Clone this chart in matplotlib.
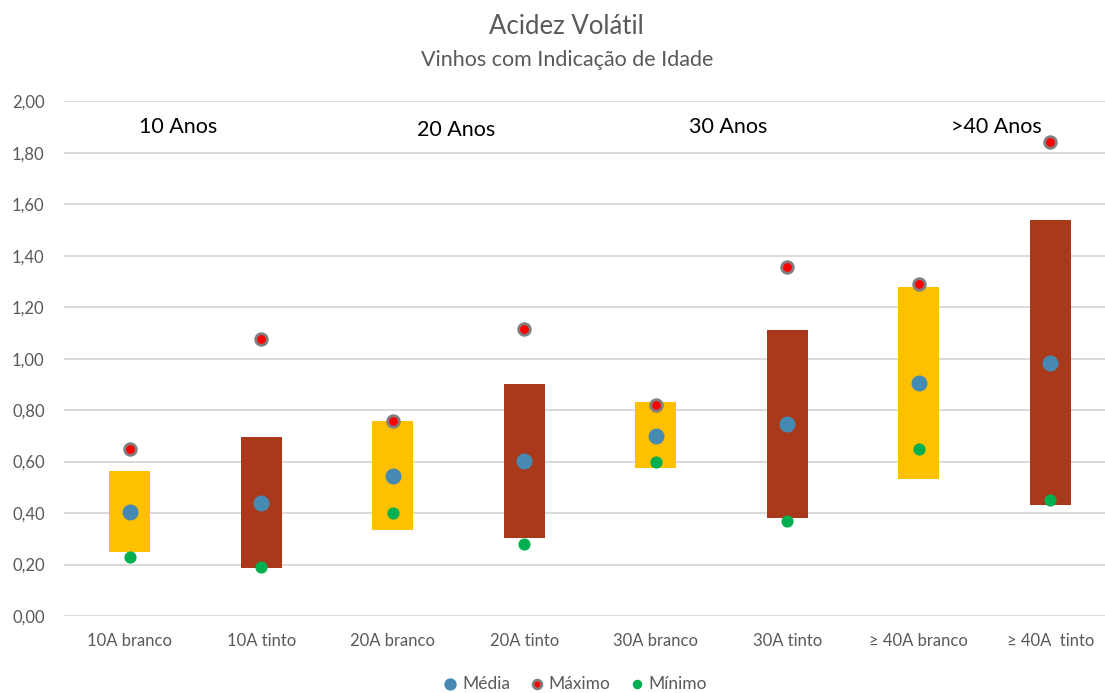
import matplotlib
matplotlib.use('Agg')
import matplotlib.pyplot as plt
import numpy as np

plt.rcParams['font.family'] = ['Lato', 'DejaVu Sans']

# ── Data ────────────────────────────────────────────────────────────────────
categories = ['10A branco', '10A tinto', '20A branco', '20A tinto',
              '30A branco', '30A tinto', '≥ 40A branco', '≥ 40A  tinto']
bar_low = [0.248, 0.185, 0.335, 0.305, 0.575, 0.380, 0.532, 0.430]
bar_high = [0.565, 0.697, 0.757, 0.900, 0.832, 1.113, 1.280, 1.537]
media = [0.405, 0.440, 0.545, 0.603, 0.700, 0.746, 0.906, 0.984]
maximo = [0.649, 1.077, 0.758, 1.117, 0.821, 1.357, 1.290, 1.841]
minimo = [0.229, 0.191, 0.399, 0.281, 0.600, 0.371, 0.650, 0.450]

group_labels = ['10 Anos', '20 Anos', '30 Anos', '>40 Anos']
group_x = [0.37, 2.48, 4.55, 6.59]
group_y = [1.90, 1.887, 1.90, 1.90]

YELLOW = '#FFC000'
BROWN = '#A9391A'
BLUE = '#468AB4'
RED = '#FF0000'
GREEN = '#00B050'
GREY_TXT = '#595959'

fig = plt.figure(figsize=(11.05, 6.93), dpi=100)
ax = fig.add_axes([0.058, 0.111, 0.952, 0.743])

x = np.arange(len(categories))
colors = [YELLOW if i % 2 == 0 else BROWN for i in range(len(categories))]
heights = np.array(bar_high) - np.array(bar_low)
ax.bar(x, heights, bottom=bar_low, width=0.31, color=colors, zorder=2)

ax.scatter(x, minimo, s=60, color=GREEN, zorder=3, label='Mínimo')
ax.scatter(x, media, s=110, color=BLUE, zorder=3, label='Média')
ax.scatter(x, maximo, s=70, color=RED, edgecolors='#7F7F7F', linewidths=2,
           zorder=4, label='Máximo')

for lab, gx, gy in zip(group_labels, group_x, group_y):
    ax.text(gx, gy, lab, ha='center', va='center', fontsize=15.5, color='black')

ax.set_xlim(-0.5, len(categories) - 0.5)
ax.set_ylim(0, 2.0)
ax.set_yticks(np.arange(0, 2.01, 0.2))
ax.set_yticklabels([f'{v:.2f}'.replace('.', ',') for v in np.arange(0, 2.01, 0.2)])
ax.set_xticks(x)
ax.set_xticklabels(categories)
ax.tick_params(length=0, colors=GREY_TXT, labelsize=12)
ax.tick_params(axis='x', pad=12)
ax.tick_params(axis='y', pad=14)
ax.grid(axis='y', color='#D9D9D9', linewidth=1.4, zorder=0)
ax.set_axisbelow(True)
for s in ax.spines.values():
    s.set_visible(False)

fig.text(0.513, 0.962, 'Acidez Volátil', ha='center', va='center',
         fontsize=18.5, color=GREY_TXT)
fig.text(0.513, 0.914, 'Vinhos com Indicação de Idade', ha='center',
         va='center', fontsize=15.5, color=GREY_TXT)

handles, labels = ax.get_legend_handles_labels()
order = [labels.index('Média'), labels.index('Máximo'), labels.index('Mínimo')]
leg = fig.legend([handles[i] for i in order], [labels[i] for i in order],
                 loc='center', bbox_to_anchor=(0.516, 0.013), ncol=3,
                 frameon=False, fontsize=12.5, handletextpad=-0.3,
                 columnspacing=0.5, markerscale=0.75)
for t in leg.get_texts():
    t.set_color(GREY_TXT)

fig.savefig('out.png', dpi=100)
